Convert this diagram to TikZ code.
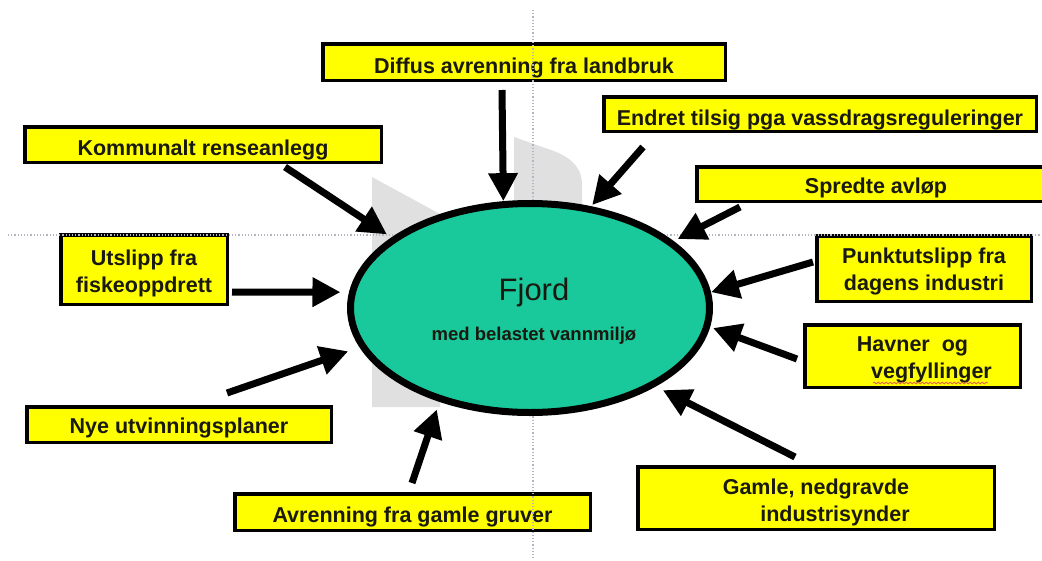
\documentclass[tikz,border=0pt]{standalone}
\usepackage{fontspec}
\setmainfont{Liberation Sans}
\usetikzlibrary{arrows.meta,shapes.geometric,decorations.pathmorphing}
\definecolor{fjordfill}{RGB}{25,200,155}
\definecolor{boxyellow}{RGB}{255,255,0}
\definecolor{txt}{RGB}{25,25,15}
\definecolor{ghostgray}{RGB}{224,224,224}
\definecolor{guide}{RGB}{180,180,192}
\definecolor{spell}{RGB}{225,95,80}
\begin{document}
\begin{tikzpicture}[x=1pt,y=-1pt,
  box/.style={draw=black, line width=3.5pt, fill=boxyellow, text=txt, inner sep=0pt,
    align=center, font=\bfseries\fontsize{21.5}{27}\selectfont},
  one/.style={text height=#1, text depth=0pt},
  arr/.style={line width=7pt, -{Triangle[length=28pt,width=28pt]}},
  guideline/.style={guide, line width=1.2pt, dotted},
]
\clip (0,0) rectangle (1042,560);
\fill[white] (0,0) rectangle (1042,560);
% faint gray shapes behind the ellipse
\fill[ghostgray] (372,177) -- (440,214) -- (440,407) -- (372,407) -- cycle;
\fill[ghostgray] (514,137) -- (545,148) .. controls (572,156) and (582,168) .. (582,185) -- (582,210) -- (514,210) -- cycle;
% boxes
\node[box,one=22pt,minimum width=402.5pt,minimum height=36.5pt] (b1) at (524,62) {Diffus avrenning fra landbruk};
\node[box,one=22pt,minimum width=432.5pt,minimum height=34.5pt] (b2) at (820,114) {Endret tilsig pga vassdragsreguleringer};
\node[box,one=21pt,minimum width=356.5pt,minimum height=35.5pt] (b3) at (203,144.5) {Kommunalt renseanlegg};
\node[box,one=18pt,minimum width=358.5pt,minimum height=34.5pt] (b4) at (876,184) {Spredte avløp};
\node[box,minimum width=166.5pt,minimum height=69.5pt] (b5) at (144,269.5) {\rule{0pt}{23.5pt}Utslipp fra\\fiskeoppdrett};
\node[box,minimum width=214.5pt,minimum height=65.5pt] (b6) at (924,268.5) {\rule{0pt}{22pt}Punktutslipp fra\\dagens industri};
\node[box,minimum width=215.5pt,minimum height=62.5pt] (b7) at (912.5,356) {\rule{0pt}{22.5pt}Havner\ \ og\\\hspace*{38pt}vegfyllinger};
\node[box,one=17pt,minimum width=304.5pt,minimum height=35.5pt] (b8) at (179,424.5) {Nye utvinningsplaner};
\node[box,one=20pt,minimum width=355.5pt,minimum height=36.5pt] (b9) at (412.5,512) {Avrenning fra gamle gruver};
\node[box,minimum width=356.5pt,minimum height=62.5pt] (b10) at (816,498) {\rule{0pt}{25pt}Gamle, nedgravde\\\hspace*{38pt}industrisynder};
% spell-check squiggle
\draw[spell, line width=0.8pt, decorate, decoration={snake, amplitude=0.9pt, segment length=4pt}] (873,383) -- (988,383);
% guide lines
\draw[guideline] (533,10) -- (533,560);
\draw[guideline] (8,235) -- (1042,235);
% the fjord
\node[ellipse, draw=black, line width=7pt, fill=fjordfill, minimum width=359pt, minimum height=209pt, inner sep=0pt] (fjord) at (530,308) {};
\node[anchor=base, text=txt, font=\fontsize{31}{36}\selectfont] (fjordtitle) at (534,300) {Fjord};
\node[anchor=base, text=txt, font=\bfseries\fontsize{18.5}{22}\selectfont] (fjordsub) at (534,340) {med belastet vannmiljø};
% arrow start points
\coordinate (s1) at (502,90);
\coordinate (s2) at (643,147);
\coordinate (s3) at (285,167);
\coordinate (s4) at (740,207);
\coordinate (s5) at (232,292);
\coordinate (s6) at (813,262);
\coordinate (s7) at (797,359);
\coordinate (s8) at (795,457);
\coordinate (s9) at (227,393);
\coordinate (s10) at (412,483);
% arrows
\draw[arr] (s1) -- (fjord.104);
\draw[arr, shorten >=1.5pt] (s2) -- (fjord.59);
\draw[arr, shorten >=5.5pt] (s3) -- (fjord.153);
\draw[arr, shorten >=4.5pt] (s4) -- (fjord.25);
\draw[arr, shorten >=8.5pt] (s5) -- (fjord.175);
\draw[arr] (s6) -- (fjord.5);
\draw[arr, shorten >=3pt] (s7) -- (fjord.354);
\draw[arr, shorten >=8pt] (s8) -- (fjord.328);
\draw[arr, shorten >=12pt] (s9) -- (fjord.193);
\draw[arr, shorten >=8pt] (s10) -- (fjord.226);
\end{tikzpicture}
\end{document}
